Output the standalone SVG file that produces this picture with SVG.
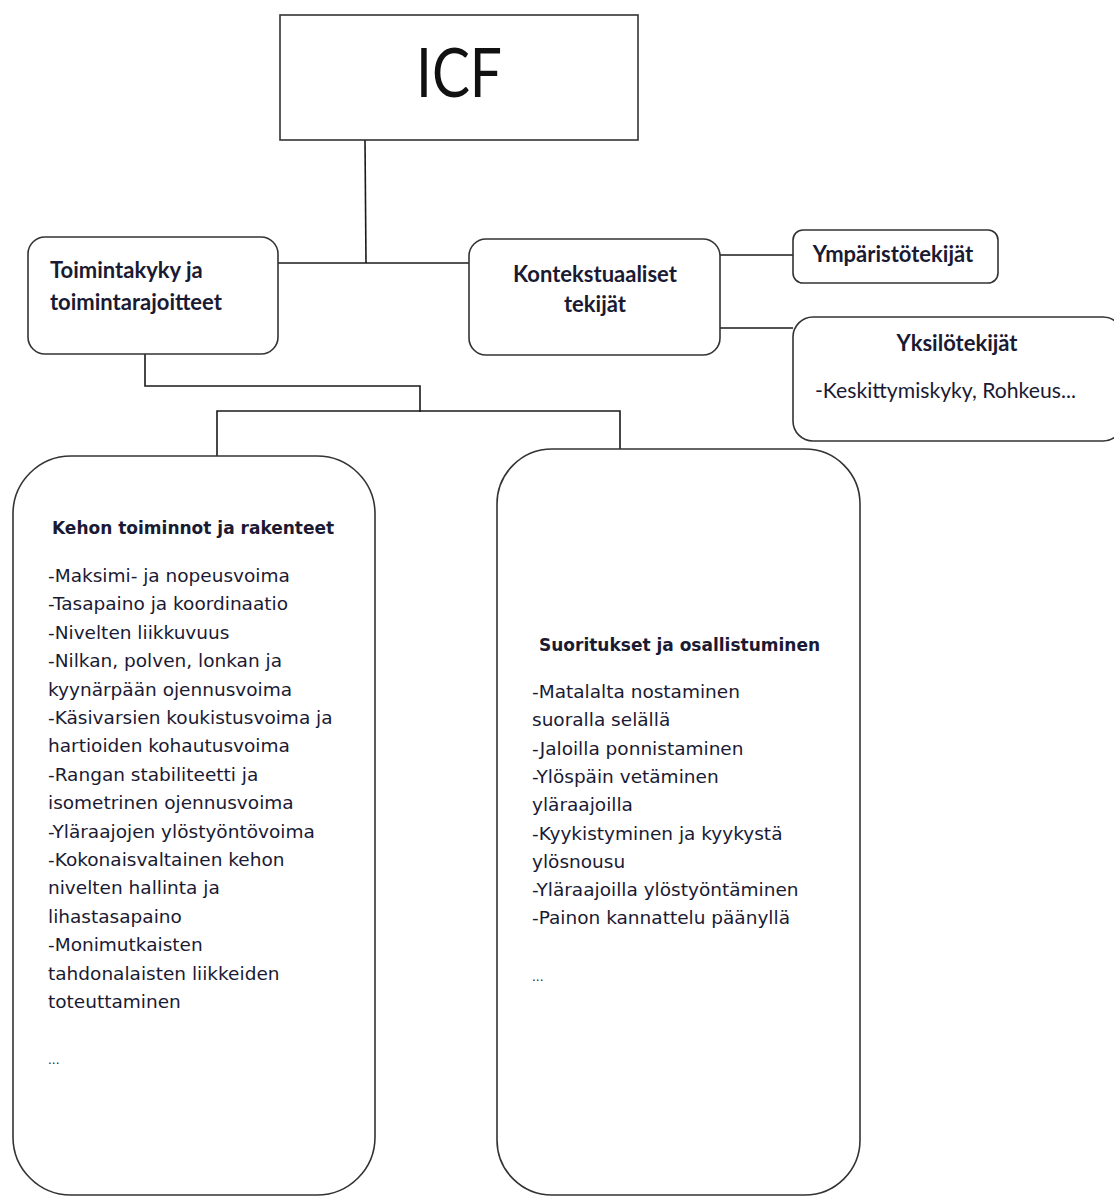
<svg xmlns="http://www.w3.org/2000/svg" width="1114" height="1197" viewBox="0 0 1114 1197">
<style>
  .box { fill: #ffffff; stroke: #333333; stroke-width: 1.6; }
  .conn { fill: none; stroke: #1a1a1a; stroke-width: 1.6; }
  .hd { font-family: Lato, "Open Sans", sans-serif; font-weight: bold; font-size: 22px; fill: #1a1a33; }
  .hn { font-family: Lato, "Open Sans", sans-serif; font-weight: normal; font-size: 21.2px; fill: #1a1a33; }
  .tl { font-family: "DejaVu Sans", "Open Sans", sans-serif; font-weight: bold; font-size: 17px; fill: #1a1a33; }
  .li { font-family: "DejaVu Sans", "Open Sans", sans-serif; font-size: 18.5px; fill: #1a1a33; }
  .dots { font-family: "DejaVu Sans", "Open Sans", sans-serif; font-size: 12px; fill: #1a1a33; }
  .icf { font-family: Lato, "Open Sans", sans-serif; font-size: 68px; fill: #111111; }
</style>
<rect width="1114" height="1197" fill="#ffffff"/>

<g id="connectors">
  <line class="conn" x1="365" y1="140" x2="366" y2="263"/>
  <line class="conn" x1="278" y1="263" x2="470" y2="263"/>
  <line class="conn" x1="720" y1="255" x2="793" y2="255"/>
  <line class="conn" x1="720" y1="328" x2="793" y2="328"/>
  <polyline class="conn" points="145,354 145,386 420,386 420,412"/>
  <polyline class="conn" points="217,457 217,411 620,411 620,449"/>
</g>

<g id="icf">
  <rect class="box" x="280" y="15" width="358" height="125" stroke-width="2"/>
  <text class="icf" x="459" y="97" text-anchor="middle" textLength="86" lengthAdjust="spacingAndGlyphs">ICF</text>
</g>

<g id="toimintakyky">
  <rect class="box" x="28" y="237" width="250" height="117" rx="17"/>
  <text class="hd" x="50" y="278">Toimintakyky ja</text>
  <text class="hd" x="50" y="310">toimintarajoitteet</text>
</g>

<g id="kontekstuaaliset">
  <rect class="box" x="469" y="239" width="251" height="116" rx="17"/>
  <text class="hd" font-size="21.5" x="595" y="282" text-anchor="middle">Kontekstuaaliset</text>
  <text class="hd" font-size="21.5" x="595" y="312" text-anchor="middle">tekijät</text>
</g>

<g id="ymparistotekijat">
  <rect class="box" x="793" y="230" width="205" height="53" rx="10"/>
  <text class="hd" x="893" y="262" text-anchor="middle">Ympäristötekijät</text>
</g>

<g id="yksilotekijat">
  <rect class="box" x="793" y="317" width="330" height="124" rx="20"/>
  <text class="hd" font-size="21.5" x="957" y="351" text-anchor="middle">Yksilötekijät</text>
  <text class="hn" x="815" y="398">-Keskittymiskyky, Rohkeus...</text>
</g>

<g id="kehon">
  <rect class="box" x="13" y="456" width="362" height="739" rx="58"/>
  <text class="tl" x="52" y="534">Kehon toiminnot ja rakenteet</text>
  <text class="li" x="48" y="582">
    <tspan x="48">-Maksimi- ja nopeusvoima</tspan>
    <tspan x="48" dy="28.4">-Tasapaino ja koordinaatio</tspan>
    <tspan x="48" dy="28.4">-Nivelten liikkuvuus</tspan>
    <tspan x="48" dy="28.4">-Nilkan, polven, lonkan ja</tspan>
    <tspan x="48" dy="28.4">kyynärpään ojennusvoima</tspan>
    <tspan x="48" dy="28.4">-Käsivarsien koukistusvoima ja</tspan>
    <tspan x="48" dy="28.4">hartioiden kohautusvoima</tspan>
    <tspan x="48" dy="28.4">-Rangan stabiliteetti ja</tspan>
    <tspan x="48" dy="28.4">isometrinen ojennusvoima</tspan>
    <tspan x="48" dy="28.4">-Yläraajojen ylöstyöntövoima</tspan>
    <tspan x="48" dy="28.4">-Kokonaisvaltainen kehon</tspan>
    <tspan x="48" dy="28.4">nivelten hallinta ja</tspan>
    <tspan x="48" dy="28.4">lihastasapaino</tspan>
    <tspan x="48" dy="28.4">-Monimutkaisten</tspan>
    <tspan x="48" dy="28.4">tahdonalaisten liikkeiden</tspan>
    <tspan x="48" dy="28.4">toteuttaminen</tspan>
  </text>
  <text class="dots" x="48" y="1064">...</text>
</g>

<g id="suoritukset">
  <rect class="box" x="497" y="449" width="363" height="746" rx="55"/>
  <text class="tl" x="539" y="651">Suoritukset ja osallistuminen</text>
  <text class="li" x="532" y="698">
    <tspan x="532">-Matalalta nostaminen</tspan>
    <tspan x="532" dy="28.3">suoralla selällä</tspan>
    <tspan x="532" dy="28.3">-Jaloilla ponnistaminen</tspan>
    <tspan x="532" dy="28.3">-Ylöspäin vetäminen</tspan>
    <tspan x="532" dy="28.3">yläraajoilla</tspan>
    <tspan x="532" dy="28.3">-Kyykistyminen ja kyykystä</tspan>
    <tspan x="532" dy="28.3">ylösnousu</tspan>
    <tspan x="532" dy="28.3">-Yläraajoilla ylöstyöntäminen</tspan>
    <tspan x="532" dy="28.3">-Painon kannattelu päänyllä</tspan>
  </text>
  <text class="dots" x="532" y="981">...</text>
</g>
</svg>
